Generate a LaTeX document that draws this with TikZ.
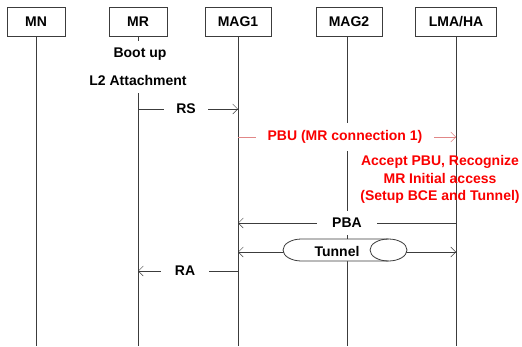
\documentclass[tikz,border=0pt]{standalone}
\usepackage{fontspec}
\setmainfont{Liberation Sans}
\usetikzlibrary{arrows.meta}

\definecolor{linegray}{RGB}{60,60,60}
\definecolor{pbutext}{RGB}{250,0,0}
\definecolor{pbuline}{RGB}{225,135,135}

\begin{document}
\begin{tikzpicture}[x=1bp,y=-1bp,>={Straight Barb[length=5bp,width=10bp]},
    font=\fontsize{14bp}{17.5bp}\selectfont\bfseries,
    entity/.style={draw=linegray,line width=0.8bp,minimum height=29bp,inner sep=0pt},
    msg/.style={fill=white,inner xsep=12bp,inner ysep=7bp},
    life/.style={draw=linegray,line width=0.8bp}]
    \useasboundingbox (0,0) rectangle (522,346);

    % entities
    \node[entity,minimum width=58bp] (mn)   at (36,21.5)  {MN};
    \node[entity,minimum width=58bp] (mr)   at (138,21.5) {MR};
    \node[entity,minimum width=66bp] (mag1) at (238,21.5) {MAG1};
    \node[entity,minimum width=66bp] (mag2) at (349,21.5) {MAG2};
    \node[entity,minimum width=81bp] (lma)  at (456,21.5) {LMA/HA};

    \coordinate (mnEnd)   at (36,346);
    \coordinate (mrEnd)   at (138,346);
    \coordinate (mag1End) at (238,346);
    \coordinate (mag2End) at (347,346);
    \coordinate (lmaEnd)  at (456,346);

    \draw[life] (mn.south) -- (mnEnd);
    \draw[life] (mr.south) -- (mrEnd);
    \draw[life] (mag1.south) -- (mag1End);
    \draw[life] (mag2.south -| mag2End) -- (mag2End);
    \draw[life] (lma.south) -- (lmaEnd);

    % MR start up
    \node[fill=white,inner sep=2bp,minimum height=27bp] (boot) at (140,54) {Boot up};
    \node[fill=white,inner sep=2bp,minimum height=26bp] (l2)   at (138,80) {L2 Attachment};

    % RS
    \coordinate (rsFrom) at (138,109);
    \coordinate (rsTo)   at (238,109);
    \draw[->,linegray] (rsFrom) -- (rsTo) node[msg,midway,text=black,xshift=-2bp] (rs) {RS};

    % PBU
    \coordinate (pbuFrom) at (238,137);
    \coordinate (pbuTo)   at (456,137);
    \draw[->,pbuline] (pbuFrom) -- (pbuTo) node[msg,midway,text=pbutext,xshift=-2bp] (pbu) {PBU (MR connection 1)};
    \node[text=pbutext,align=center] (accept) at (440,179.5)
        {Accept PBU, Recognize\\MR Initial access\\(Setup BCE and Tunnel)};

    % PBA
    \coordinate (pbaFrom) at (456,223);
    \coordinate (pbaTo)   at (238,223);
    \draw[->,linegray] (pbaFrom) -- (pbaTo) node[msg,midway,text=black,inner xsep=15bp] (pba) {PBA};

    % Tunnel
    \coordinate (tunL) at (238,252);
    \coordinate (tunR) at (456,252);
    \draw[<->,linegray] (tunL) -- (tunR);
    \draw[linegray,line width=0.8bp,fill=white] (301.5,239) -- (388.5,239)
        arc (90:-90:18.5bp and 11bp) -- (301.5,261) arc (270:90:18.5bp and 11bp) -- cycle;
    \draw[linegray,line width=0.8bp] (388.5,239) arc (90:270:18.5bp and 11bp);
    \node (tunText) at (337,251) {Tunnel};

    % RA
    \coordinate (raFrom) at (238,271);
    \coordinate (raTo)   at (138,271);
    \draw[->,linegray] (raFrom) -- (raTo) node[msg,midway,text=black,inner xsep=14bp,xshift=-3bp] (ra) {RA};
\end{tikzpicture}
\end{document}
